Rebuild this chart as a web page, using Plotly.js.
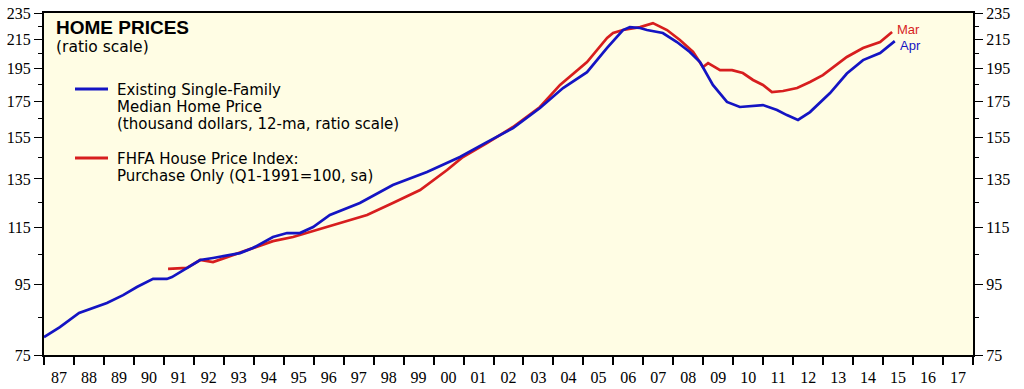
<!DOCTYPE html>
<html>
<head>
<meta charset="utf-8">
<script src="https://cdn.plot.ly/plotly-3.0.1.min.js"></script>
<style>html,body{margin:0;padding:0;background:#fff;}#chart{width:1024px;height:389px;}</style>
</head>
<body>
<div id="chart"></div>
<script>
// Existing single-family median home price (thousand $, 12-ma)
var blueYears = [1987.0,1987.53,1988.17,1989.10,1989.64,1990.10,1990.64,1991.10,1991.27,1991.77,1992.21,1992.64,1993.11,1993.54,1993.97,1994.64,1995.11,1995.54,1995.98,1996.54,1997.54,1998.64,1999.78,2000.88,2001.78,2002.65,2003.55,2004.32,2005.12,2005.79,2006.32,2006.55,2006.89,2007.12,2007.65,2008.12,2008.55,2008.89,2009.32,2009.79,2010.22,2010.99,2011.46,2011.79,2012.16,2012.56,2013.23,2013.56,2013.79,2014.33,2014.90,2015.39];
var blueValues = [79.6,82.3,86.3,89.2,91.6,94.1,96.7,96.7,97.3,100.3,103.0,103.7,104.7,105.4,107.2,111.2,112.7,112.7,115.0,119.7,124.6,132.3,138.2,145.3,152.7,160.0,171.1,182.9,192.9,209.1,222.0,224.2,223.5,222.0,219.8,213.3,206.3,199.5,184.8,174.6,171.7,172.8,170.0,167.1,164.4,168.8,179.9,186.6,192.0,200.8,205.6,213.9];
// FHFA House Price Index, purchase only (Q1-1991=100, sa)
var redYears = [1991.14,1991.77,1992.21,1992.64,1993.11,1993.77,1994.64,1995.31,1995.98,1996.88,1997.78,1998.64,1999.55,2000.45,2000.98,2001.78,2002.65,2003.55,2004.22,2005.12,2005.79,2005.99,2006.32,2006.89,2007.32,2007.79,2008.22,2008.66,2008.89,2008.99,2009.16,2009.56,2009.96,2010.32,2010.66,2010.99,2011.29,2011.66,2012.13,2012.56,2012.99,2013.56,2013.79,2014.33,2014.90,2015.30];
var redValues = [100.0,100.3,103.0,102.3,104.0,106.5,109.7,111.2,113.5,116.5,119.7,124.6,130.1,139.1,145.3,152.2,160.6,171.7,184.8,199.5,216.2,219.8,222.0,224.2,227.2,222.0,214.7,206.3,198.8,196.2,198.8,194.2,194.2,192.3,187.9,184.8,180.5,181.1,182.9,186.6,191.0,199.5,202.9,209.1,213.3,220.5];

var yearLabels = ['87','88','89','90','91','92','93','94','95','96','97','98','99','00','01','02','03','04','05','06','07','08','09','10','11','12','13','14','15','16','17'];
var firstYear = 1987;
var yTicks = [75,95,115,135,155,175,195,215,235];
var yMinorTicks = [85,105,125,145,165,185,205,225];

var BLUE = 'rgb(20,20,195)';
var RED = 'rgb(215,30,30)';

var labelPos = yearLabels.map(function(_, i){ return firstYear + i + 0.5; });
var yearBounds = yearLabels.map(function(_, i){ return firstYear + i; }).concat([firstYear + yearLabels.length]);

var traces = [
  {x: redYears, y: redValues, type: 'scatter', mode: 'lines', line: {color: RED, width: 2.7}, hoverinfo: 'skip', showlegend: false},
  {x: blueYears, y: blueValues, type: 'scatter', mode: 'lines', line: {color: BLUE, width: 2.7}, hoverinfo: 'skip', showlegend: false},
  {x: [firstYear], y: [yTicks[0]], yaxis: 'y2', type: 'scatter', mode: 'markers', marker: {opacity: 0}, hoverinfo: 'skip', showlegend: false}
];

var tickFont = {family: '"Liberation Serif", "Times New Roman", serif', size: 16, color: '#000'};
var yLog = [Math.log10(yTicks[0]), Math.log10(yTicks[yTicks.length-1])];

function yAxis(side) {
  return {
    type: 'log', range: yLog, side: side,
    tickmode: 'array', tickvals: yTicks, ticktext: yTicks.map(String),
    ticks: 'outside', ticklen: 8, tickwidth: 1, tickcolor: '#000',
    minor: {tickmode: 'array', tickvals: yMinorTicks, ticks: 'outside', ticklen: 4, tickwidth: 1, tickcolor: '#000', showgrid: false},
    showgrid: false, zeroline: false, showline: true, linecolor: '#000', linewidth: 2,
    tickfont: tickFont, fixedrange: true
  };
}

var y1 = yAxis('left'); y1.mirror = true;
var y2 = yAxis('right'); y2.overlaying = 'y'; y2.anchor = 'x';

var sans = '"Liberation Sans", Arial, Helvetica, sans-serif';
var wide = '"DejaVu Sans", Verdana, sans-serif';
function px(v){ return (v - 44) / 929; }
function py(v){ return (355 - v) / 342; }
function txt(x, y, s, size, color, fam) {
  return {xref: 'paper', yref: 'paper', x: px(x), y: py(y), xanchor: 'left', yanchor: 'middle', showarrow: false, borderpad: 0,
    text: s, font: {family: fam || wide, size: size, color: color || '#000'}};
}

var annotations = [
  txt(55, 27, '<b>HOME PRICES</b>', 19, '#000', sans),
  txt(55, 47, '(ratio scale)', 15.5),
  txt(116, 90, 'Existing Single-Family', 15),
  txt(116, 107, 'Median Home Price', 15),
  txt(116, 124, '(thousand dollars, 12-ma, ratio scale)', 15),
  txt(116, 159, 'FHFA House Price Index:', 15),
  txt(116, 176, 'Purchase Only (Q1-1991=100, sa)', 15),
  txt(896, 30, 'Mar', 13, RED, sans),
  txt(899, 45, 'Apr', 13, BLUE, sans)
];

var shapes = [
  {type: 'line', xref: 'paper', yref: 'paper', x0: px(75), x1: px(108), y0: py(89), y1: py(89), line: {color: BLUE, width: 3}},
  {type: 'line', xref: 'paper', yref: 'paper', x0: px(75), x1: px(108), y0: py(158), y1: py(158), line: {color: RED, width: 3}}
];

var layout = {
  width: 1024, height: 389,
  margin: {l: 44, r: 51, t: 13, b: 34, pad: 0},
  paper_bgcolor: '#ffffff',
  plot_bgcolor: 'rgb(255,253,228)',
  showlegend: false,
  xaxis: {
    type: 'linear', range: [firstYear, firstYear + yearLabels.length],
    tickmode: 'array', tickvals: labelPos, ticktext: yearLabels,
    ticks: 'outside', ticklen: 7, tickcolor: 'rgba(0,0,0,0)',
    minor: {tickmode: 'array', tickvals: yearBounds, ticks: 'outside', ticklen: 8, tickwidth: 2, tickcolor: '#000', showgrid: false},
    showgrid: false, zeroline: false, showline: true, linecolor: '#000', linewidth: 2, mirror: true,
    tickfont: tickFont, fixedrange: true
  },
  yaxis: y1,
  yaxis2: y2,
  annotations: annotations,
  shapes: shapes
};

Plotly.newPlot('chart', traces, layout, {staticPlot: true, displayModeBar: false});
</script>
</body>
</html>
